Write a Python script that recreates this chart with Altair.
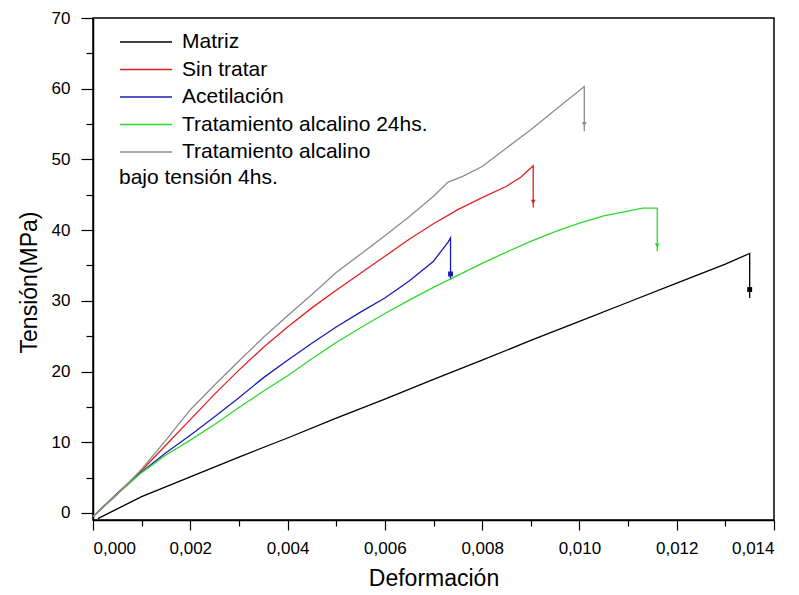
import altair as alt
import pandas as pd

names = ["Matriz", "Sin tratar", "Acetilación", "Tratamiento alcalino 24hs.", "Tratamiento alcalino"]
colors = ["#000000", "#e02020", "#1c1cb4", "#2ed82e", "#8c8c8c"]

matriz_x = [0.0001, 0.001, 0.002, 0.003, 0.004, 0.005, 0.006, 0.007, 0.008, 0.009, 0.010, 0.011, 0.012, 0.013, 0.0135, 0.0135]
matriz_y = [-0.8, 2.3, 5.1, 7.9, 10.6, 13.4, 16.1, 18.9, 21.6, 24.4, 27.1, 29.8, 32.5, 35.2, 36.7, 30.4]

sin_x = [0, 0.0005, 0.001, 0.0015, 0.002, 0.0025, 0.003, 0.0035, 0.004, 0.0045, 0.005, 0.0055, 0.006, 0.0065, 0.007, 0.0075, 0.008, 0.0085, 0.0088, 0.00905, 0.00905]
sin_y = [-0.5, 2.8, 6.0, 9.6, 13.2, 16.8, 20.2, 23.4, 26.3, 29.0, 31.5, 33.9, 36.3, 38.7, 40.9, 42.9, 44.6, 46.2, 47.5, 49.1, 43.2]

acet_x = [0, 0.0005, 0.001, 0.0015, 0.002, 0.0025, 0.003, 0.0035, 0.004, 0.0045, 0.005, 0.0055, 0.006, 0.0065, 0.007, 0.0073, 0.00735, 0.00735]
acet_y = [-0.5, 2.7, 5.8, 8.5, 11.0, 13.6, 16.3, 19.1, 21.6, 24.0, 26.3, 28.4, 30.4, 32.8, 35.6, 38.3, 38.9, 33.0]

alc24_x = [0, 0.0005, 0.001, 0.0015, 0.002, 0.0025, 0.003, 0.0035, 0.004, 0.0045, 0.005, 0.0055, 0.006, 0.0065, 0.007, 0.0075, 0.008, 0.0085, 0.009, 0.0095, 0.010, 0.0105, 0.011, 0.0113, 0.0116, 0.0116]
alc24_y = [-0.5, 2.7, 5.7, 8.2, 10.3, 12.5, 14.9, 17.2, 19.4, 21.8, 24.1, 26.2, 28.2, 30.1, 31.9, 33.6, 35.3, 36.9, 38.4, 39.8, 41.0, 42.0, 42.7, 43.1, 43.1, 37.0]

alc4_x = [0, 0.0005, 0.001, 0.0015, 0.002, 0.0025, 0.003, 0.0035, 0.004, 0.0045, 0.005, 0.0055, 0.006, 0.0065, 0.007, 0.0073, 0.0076, 0.008, 0.0085, 0.009, 0.0095, 0.0101, 0.0101]
alc4_y = [-0.5, 2.6, 6.2, 10.3, 14.6, 18.1, 21.5, 24.8, 27.9, 30.9, 34.0, 36.6, 39.2, 41.9, 44.8, 46.8, 47.6, 49.0, 51.6, 54.2, 57.0, 60.3, 54.0]

mk_x = [0.0135, 0.00905, 0.00735, 0.0116, 0.0101]
mk_y = [31.6, 44.0, 33.8, 37.8, 55.0]
mk_shape = ["square", "triangle-down", "square", "triangle-down", "triangle-down"]

x_major = [0, 0.002, 0.004, 0.006, 0.008, 0.010, 0.012, 0.014]
x_minor = [0.001, 0.003, 0.005, 0.007, 0.009, 0.011, 0.013]
y_major = [0, 10, 20, 30, 40, 50, 60, 70]
y_minor = [5, 15, 25, 35, 45, 55, 65]

rows = []
for name, xs, ys in zip(names, [matriz_x, sin_x, acet_x, alc24_x, alc4_x], [matriz_y, sin_y, acet_y, alc24_y, alc4_y]):
    for i, (xv, yv) in enumerate(zip(xs, ys)):
        rows.append({"serie": name, "x": xv, "y": yv, "i": i})
df = pd.DataFrame(rows)
mk = pd.DataFrame({"serie": names, "x": mk_x, "y": mk_y, "shape": mk_shape})

FONT = "Liberation Sans"
xscale = alt.Scale(domain=[0, 0.014], nice=False, zero=False)
yscale = alt.Scale(domain=[-1, 70], nice=False, zero=False)
cscale = alt.Scale(domain=names, range=colors)

lines = alt.Chart(df).mark_line(strokeWidth=1.3).encode(
    x=alt.X("x:Q", scale=xscale, title="Deformación",
            axis=alt.Axis(values=x_major, orient="bottom", grid=False, tickSize=10,
                          labelExpr="replace(format(datum.value, '.3f'), '.', ',')",
                          labelPadding=10, titlePadding=11)),
    y=alt.Y("y:Q", scale=yscale, title="Tensión(MPa)",
            axis=alt.Axis(values=y_major, orient="left", grid=False, tickSize=12,
                          labelPadding=11, titlePadding=10, titleY=264)),
    color=alt.Color("serie:N", scale=cscale, title="bajo tensión 4hs.",
                    legend=alt.Legend(orient="none", legendX=26, legendY=13, padding=0,
                                      symbolType="M-1,0H4.2", symbolSize=400,
                                      symbolStrokeWidth=1.5, symbolOffset=0,
                                      labelFont=FONT, labelFontSize=21, labelColor="black",
                                      labelOffset=41, labelLimit=400, rowPadding=6.5,
                                      titleOrient="bottom", titleAnchor="start",
                                      titleFont=FONT, titleFontSize=21, titleFontWeight="normal",
                                      titleColor="black", titlePadding=5, titleLimit=400)),
    detail="serie:N",
    order=alt.Order("i:Q"),
)

markers = alt.Chart(mk).mark_point(filled=True, size=24, opacity=1).encode(
    x=alt.X("x:Q", scale=xscale, title=None,
            axis=alt.Axis(values=x_minor, orient="bottom", labels=False, domain=False,
                          grid=False, tickSize=6, title=None)),
    y=alt.Y("y:Q", scale=yscale, title=None,
            axis=alt.Axis(values=y_minor, orient="left", labels=False, domain=False,
                          grid=False, tickSize=7, title=None)),
    color=alt.Color("serie:N", scale=cscale, legend=None),
    shape=alt.Shape("shape:N", scale=None),
)

chart = alt.layer(lines, markers).resolve_axis(x="independent", y="independent").properties(
    width=681, height=502,
    autosize=alt.AutoSizeParams(type="none"),
    padding={"left": 93, "top": 18, "right": 25, "bottom": 75},
    background="white",
).configure_view(stroke="black", strokeWidth=1.5).configure_axis(
    domainColor="black", domainWidth=1.5, tickColor="black", tickWidth=1.2,
    labelFont=FONT, labelFontSize=17, labelColor="black",
    titleFont=FONT, titleFontSize=23, titleFontWeight="normal", titleColor="black",
)

chart.save("out.html", embed_options={"renderer": "svg", "actions": False})
